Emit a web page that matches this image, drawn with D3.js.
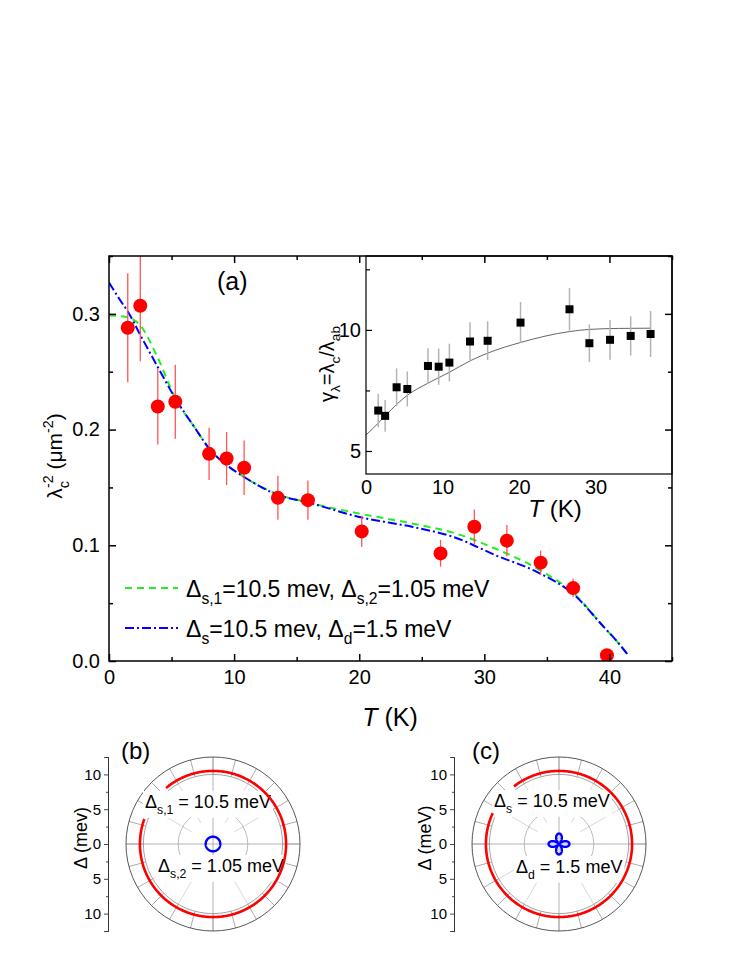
<!DOCTYPE html>
<html><head><meta charset="utf-8">
<script src="https://cdn.jsdelivr.net/npm/d3@7"></script>
<style>
body{margin:0;background:#fff}
svg{display:block}
text{font-family:"Liberation Sans",Arial,sans-serif;fill:#000}
</style>
</head><body>
<svg id="c" width="747" height="967"></svg>
<script>
// ---------- DATA ----------
const tempK      = [1.5, 2.5, 3.9, 5.3, 8.0, 9.4, 10.8, 13.5, 15.9, 20.2, 26.5, 29.2, 31.8, 34.5, 37.1, 39.8];
const lambdaC    = [0.288, 0.307, 0.220, 0.224, 0.179, 0.175, 0.167, 0.141, 0.139, 0.112, 0.093, 0.116, 0.104, 0.085, 0.063, 0.005];
const lambdaErr  = [0.047, 0.048, 0.033, 0.032, 0.0225, 0.023, 0.0235, 0.019, 0.017, 0.0135, 0.0115, 0.015, 0.0135, 0.0105, 0.008, 0];

const fitT       = [0, 1.0, 1.5, 2.5, 3.9, 5.3, 6.8, 8.1, 9.4, 10.8, 13.5, 15.9, 20.2, 24.3, 27.6, 30.9, 34.2, 37.2, 39.5, 40.6, 41.5];
const fitTwoS    = [0.2985, 0.298, 0.297, 0.290, 0.262, 0.227, 0.2025, 0.1824, 0.1694, 0.159, 0.144, 0.137, 0.127, 0.1187, 0.1106, 0.097, 0.080, 0.058, 0.030, 0.017, 0.005];
const fitSD      = [0.327, 0.310, 0.302, 0.2818, 0.254, 0.227, 0.2025, 0.1824, 0.1694, 0.159, 0.1435, 0.137, 0.124, 0.1158, 0.107, 0.0914, 0.077, 0.057, 0.030, 0.017, 0.005];

const insetT     = [1.6, 2.5, 4.0, 5.4, 8.1, 9.5, 10.9, 13.6, 15.9, 20.2, 26.6, 29.2, 31.9, 34.6, 37.2];
const gammaVals  = [6.67, 6.45, 7.63, 7.56, 8.51, 8.48, 8.65, 9.52, 9.55, 10.30, 10.85, 9.45, 9.59, 9.75, 9.83];
const gammaErr   = [0.69, 0.66, 0.78, 0.72, 0.73, 0.75, 0.78, 0.80, 0.80, 0.85, 0.88, 0.78, 0.82, 0.81, 0.95];
const gammaFitT  = [0, 1.6, 2.5, 4.1, 5.4, 8.1, 10.9, 13.6, 15.9, 20.2, 26.6, 29.2, 33.0, 37.2];
const gammaFit   = [5.66, 6.15, 6.45, 6.95, 7.3, 7.8, 8.25, 8.72, 9.04, 9.48, 9.93, 10.02, 10.06, 10.07];

const xTicks = [0, 10, 20, 30, 40], xMinor = [5, 15, 25, 35, 45];
const yTicks = [0, 0.1, 0.2, 0.3], yMinor = [0.05, 0.15, 0.25, 0.35];
const insetXTicks = [0, 10, 20, 30], insetYTicks = [5, 10], insetYMinor = [7.5, 12.5];
const polarTicks = [-10, -5, 0, 5, 10], polarMinor = [-12.5, -7.5, -2.5, 2.5, 7.5, 12.5];

const gapB = [130, 160];   // red ring gap (deg) panel b
const gapC = [128, 155];   // red ring gap (deg) panel c
const gapS1 = 10.5, gapS2 = 1.05, gapSs = 10.5, gapD = 1.5;

// ---------- HELPERS ----------
const FONT = 'Liberation Sans, Arial, sans-serif';
const svg = d3.select('#c');
function rich(t, parts, size){
  let shift = 0;
  parts.forEach(p => {
    const [s, k, dx] = p;
    const target = k === 'sub' ? size*0.32 : k === 'sup' ? -size*0.42 : 0;
    const ts = t.append('tspan').text(s).attr('dy', target - shift);
    if (k !== 'n') ts.attr('font-size', size*0.68);
    if (dx) ts.attr('dx', dx);
    shift = target;
  });
  return t;
}

// ---------- MAIN PANEL ----------
const mx = d3.scaleLinear([0, 45], [109, 672]);
const my = d3.scaleLinear([0, 0.35], [661, 256]);
svg.append('clipPath').attr('id','mclip').append('rect')
  .attr('x', mx(0)).attr('y', my(0.35)).attr('width', mx(45)-mx(0)).attr('height', my(0)-my(0.35));
const gm = svg.append('g').attr('clip-path','url(#mclip)');

const lineM = (ys) => d3.line().x((d,i)=>mx(fitT[i])).y((d,i)=>my(ys[i])).curve(d3.curveMonotoneX)(ys);
gm.append('path').attr('d', lineM(fitTwoS)).attr('fill','none').attr('stroke','#22ee22').attr('stroke-width',2).attr('stroke-dasharray','7,5');
gm.append('path').attr('d', lineM(fitSD)).attr('fill','none').attr('stroke','#0000ff').attr('stroke-width',2).attr('stroke-dasharray','9,3,2,3');

tempK.forEach((t,i)=>{
  if (lambdaErr[i] > 0) gm.append('line').attr('x1',mx(t)).attr('x2',mx(t))
    .attr('y1',my(lambdaC[i]-lambdaErr[i])).attr('y2',my(lambdaC[i]+lambdaErr[i]))
    .attr('stroke','#ff5555').attr('stroke-width',1.3);
});
tempK.forEach((t,i)=>{
  gm.append('circle').attr('cx',mx(t)).attr('cy',my(lambdaC[i])).attr('r',7).attr('fill','#ff0000');
});

// legend
const legend = [
  {color:'#22ee22', dash:'7,5', parts:[['Δ','n'],['s,1','sub'],['=10.5 mev, Δ','n'],['s,2','sub'],['=1.05 meV','n']]},
  {color:'#0000ff', dash:'9,3,2,3', parts:[['Δ','n'],['s','sub'],['=10.5 mev, Δ','n'],['d','sub'],['=1.5 meV','n']]}
];
legend.forEach((L,i)=>{
  const y = 588 + i*40;
  svg.append('line').attr('x1',125).attr('x2',178).attr('y1',y).attr('y2',y)
    .attr('stroke',L.color).attr('stroke-width',2).attr('stroke-dasharray',L.dash);
  rich(svg.append('text').attr('x',186).attr('y',y+9).attr('font-size',23), L.parts, 23);
});

svg.append('text').attr('x',217).attr('y',290).attr('font-size',25).text('(a)');

// ---------- INSET ----------
const ix = d3.scaleLinear([0, 40], [366, 672]);
const iy = d3.scaleLinear([4.05, 13.05], [474, 256]);
const gi = svg.append('g');
gi.append('rect').attr('x',ix(0)).attr('y',iy(13.05)).attr('width',ix(40)-ix(0)).attr('height',iy(4.05)-iy(13.05)).attr('fill','#fff');
gi.append('path').attr('d', d3.line().x((d,i)=>ix(gammaFitT[i])).y((d,i)=>iy(gammaFit[i])).curve(d3.curveMonotoneX)(gammaFit))
  .attr('fill','none').attr('stroke','#666').attr('stroke-width',1);
insetT.forEach((t,i)=>{
  gi.append('line').attr('x1',ix(t)).attr('x2',ix(t)).attr('y1',iy(gammaVals[i]-gammaErr[i])).attr('y2',iy(gammaVals[i]+gammaErr[i]))
    .attr('stroke','#b4b4b4').attr('stroke-width',1.5);
});
insetT.forEach((t,i)=>{
  gi.append('rect').attr('x',ix(t)-4).attr('y',iy(gammaVals[i])-4).attr('width',8).attr('height',8).attr('fill','#000');
});
gi.append('rect').attr('x',ix(0)).attr('y',iy(13.05)).attr('width',ix(40)-ix(0)).attr('height',iy(4.05)-iy(13.05))
  .attr('fill','none').attr('stroke','#000').attr('stroke-width',1.2);
const ixAx = gi.append('g').attr('transform',`translate(0,${iy(4.05)})`)
  .call(d3.axisBottom(ix).tickValues(insetXTicks).tickSize(0).tickPadding(6).tickFormat(d3.format('d')));
const iyAx = gi.append('g').attr('transform',`translate(${ix(0)},0)`)
  .call(d3.axisLeft(iy).tickValues(insetYTicks).tickSize(-6).tickPadding(6).tickFormat(d3.format('d')));
const iyMin = gi.append('g').attr('transform',`translate(${ix(0)},0)`)
  .call(d3.axisLeft(iy).tickValues(insetYMinor).tickSize(-4).tickFormat(''));
[ixAx, iyAx, iyMin].forEach(a=>{ a.select('.domain').remove(); a.selectAll('text').attr('font-size',20).attr('font-family',FONT); a.selectAll('line').attr('stroke','#000').attr('stroke-width',1.2); });
iyAx.selectAll('text').attr('x', -5);
rich(svg.append('text').attr('transform','translate(334,364) rotate(-90)').attr('text-anchor','middle').attr('font-size',20),
  [['γ','n'],['λ','sub'],['=λ','n'],['c','sub'],['/λ','n'],['ab','sub']], 20);
const it = svg.append('text').attr('x',555).attr('y',517).attr('text-anchor','middle').attr('font-size',24);
it.append('tspan').attr('font-style','italic').text('T');
it.append('tspan').text(' (K)');

// ---------- MAIN AXES ----------
svg.append('rect').attr('x',mx(0)).attr('y',my(0.35)).attr('width',mx(45)-mx(0)).attr('height',my(0)-my(0.35))
  .attr('fill','none').attr('stroke','#000').attr('stroke-width',1.5);
function styleAx(a, fs){ a.select('.domain').remove(); a.selectAll('line').attr('stroke','#000').attr('stroke-width',1.5);
  a.selectAll('text').attr('font-size',fs).attr('font-family',FONT); return a; }
styleAx(svg.append('g').attr('transform',`translate(0,${my(0)})`).call(d3.axisBottom(mx).tickValues(xTicks).tickSize(-7).tickPadding(9).tickFormat(d3.format('d'))), 20);
styleAx(svg.append('g').attr('transform',`translate(0,${my(0)})`).call(d3.axisBottom(mx).tickValues(xMinor).tickSize(-4).tickFormat('')), 20);
styleAx(svg.append('g').attr('transform',`translate(0,${my(0.35)})`).call(d3.axisTop(mx).tickValues(xTicks).tickSize(-7).tickFormat('')), 20);
styleAx(svg.append('g').attr('transform',`translate(0,${my(0.35)})`).call(d3.axisTop(mx).tickValues(xMinor).tickSize(-4).tickFormat('')), 20);
styleAx(svg.append('g').attr('transform',`translate(${mx(0)},0)`).call(d3.axisLeft(my).tickValues(yTicks).tickSize(-7).tickPadding(9).tickFormat(d3.format('.1f'))), 20);
styleAx(svg.append('g').attr('transform',`translate(${mx(0)},0)`).call(d3.axisLeft(my).tickValues(yMinor).tickSize(-4).tickFormat('')), 20);
styleAx(svg.append('g').attr('transform',`translate(${mx(45)},0)`).call(d3.axisRight(my).tickValues(yTicks).tickSize(-7).tickFormat('')), 20);
styleAx(svg.append('g').attr('transform',`translate(${mx(45)},0)`).call(d3.axisRight(my).tickValues(yMinor).tickSize(-4).tickFormat('')), 20);

const mt = svg.append('text').attr('x',390).attr('y',726).attr('text-anchor','middle').attr('font-size',25);
mt.append('tspan').attr('font-style','italic').text('T');
mt.append('tspan').text(' (K)');
rich(svg.append('text').attr('transform','translate(62,456) rotate(-90)').attr('text-anchor','middle').attr('font-size',21),
  [['λ','n'],['c','sub'],['-2','sup',-7],[' (μm','n'],['-2','sup'],[')','n']], 21);

// ---------- POLAR PANELS ----------
function polar(cx, cy, axisX, gap, tag, tagX, ylabel, ylabX, labels, inner){
  const r = d3.scaleLinear([0, 12.5], [0, 87]);
  const g = svg.append('g');
  const toXY = (deg, rad) => [cx + r(rad)*Math.cos(deg*Math.PI/180), cy - r(rad)*Math.sin(deg*Math.PI/180)];
  d3.range(0, 360, 30).forEach(a=>{
    if (a % 90 === 0) return;
    const [x1,y1] = toXY(a, 3.5), [x2,y2] = toXY(a, 10);
    g.append('line').attr('x1',x1).attr('y1',y1).attr('x2',x2).attr('y2',y2).attr('stroke','#cfcfcf').attr('stroke-width',0.8);
  });
  d3.range(0, 360, 15).forEach(a=>{
    const [x1,y1] = toXY(a, 10), [x2,y2] = toXY(a, 12.5);
    g.append('line').attr('x1',x1).attr('y1',y1).attr('x2',x2).attr('y2',y2).attr('stroke','#888').attr('stroke-width',0.7);
  });
  [0, 90].forEach(a=>{
    const [x1,y1] = toXY(a, 12.5), [x2,y2] = toXY(a+180, 12.5);
    g.append('line').attr('x1',x1).attr('y1',y1).attr('x2',x2).attr('y2',y2).attr('stroke','#aaa').attr('stroke-width',0.9);
  });
  g.append('circle').attr('cx',cx).attr('cy',cy).attr('r',r(5)).attr('fill','none').attr('stroke','#aaa').attr('stroke-width',0.8);
  g.append('circle').attr('cx',cx).attr('cy',cy).attr('r',r(10)).attr('fill','none').attr('stroke','#999').attr('stroke-width',0.9);
  g.append('circle').attr('cx',cx).attr('cy',cy).attr('r',r(12.5)).attr('fill','none').attr('stroke','#444').attr('stroke-width',0.9);
  labels.forEach(L=>{
    const t = rich(g.append('text').attr('x',L.x).attr('y',L.y).attr('font-size',18), L.parts, 18);
    const b = t.node().getBBox();
    g.insert('rect', function(){ return t.node(); }).attr('x',b.x-2).attr('y',b.y-1).attr('width',b.width+4).attr('height',b.height+2).attr('fill','#fff');
  });
  const ringPts = d3.range(gap[1], gap[0]+360+0.5, 1).map(a=>toXY(a, inner.ring));
  g.append('path').attr('d', d3.line()(ringPts)).attr('fill','none').attr('stroke','#ff0000').attr('stroke-width',2.6);
  const bluePts = d3.range(0, 361, 2).map(a=>toXY(a, inner.f(a*Math.PI/180)));
  g.append('path').attr('d', d3.line()(bluePts)).attr('fill','none').attr('stroke','#0000ff').attr('stroke-width',2.4);
  const ay = d3.scaleLinear([-12.5, 12.5], [cy + 87, cy - 87]);
  const ax = g.append('g').attr('transform',`translate(${axisX},0)`)
    .call(d3.axisLeft(ay).tickValues(polarTicks).tickSize(4).tickPadding(3).tickFormat(d=>Math.abs(d)));
  const axm = g.append('g').attr('transform',`translate(${axisX},0)`)
    .call(d3.axisLeft(ay).tickValues(polarMinor).tickSize(2).tickFormat(''));
  [ax, axm].forEach(a=>{ a.select('.domain').attr('stroke','#333').attr('stroke-width',0.9); a.selectAll('line').attr('stroke','#333').attr('stroke-width',0.9);
    a.selectAll('text').attr('font-size',15).attr('font-family',FONT); });
  svg.append('text').attr('x',tagX).attr('y',cy-85).attr('font-size',24).text(tag);
  svg.append('text').attr('transform',`translate(${ylabX},${cy-6}) rotate(-90)`).attr('text-anchor','middle').attr('font-size',18).text(ylabel);
}

polar(213, 844, 108, gapB, '(b)', 121, 'Δ (mev)', 87,
  [{x:145, y:808, parts:[['Δ','n'],['s,1','sub'],[' = 10.5 meV','n']]},
   {x:158, y:872, parts:[['Δ','n'],['s,2','sub'],[' = 1.05 meV','n']]}],
  {ring: gapS1, f: a => gapS2});
polar(559, 844, 454, gapC, '(c)', 472, 'Δ (meV)', 431,
  [{x:494, y:807, parts:[['Δ','n'],['s','sub'],[' = 10.5 meV','n']]},
   {x:516, y:873, parts:[['Δ','n'],['d','sub'],[' = 1.5 meV','n']]}],
  {ring: gapSs, f: a => gapD*Math.abs(Math.cos(2*a))});
</script>
</body></html>
